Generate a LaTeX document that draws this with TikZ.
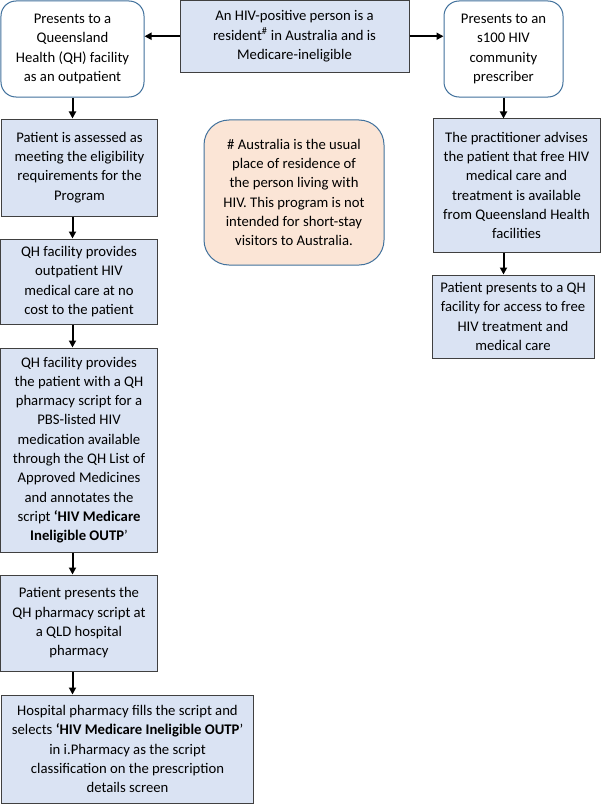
\documentclass[tikz,border=0pt]{standalone}
\usepackage{fontspec}
\setmainfont{Carlito}
\usetikzlibrary{arrows.meta}
\definecolor{bfill}{HTML}{DAE3F3}
\definecolor{bdraw}{HTML}{404040}
\definecolor{rdraw}{HTML}{41719C}
\definecolor{nfill}{HTML}{FBE5D6}
\begin{document}
\begin{tikzpicture}[x=1bp,y=-1bp,
 every node/.style={font=\fontsize{14.7bp}{19.3bp}\selectfont, align=center, inner sep=0pt},
 bluebox/.style={draw=bdraw, fill=bfill, line width=1bp},
 roundbox/.style={draw=rdraw, fill=white, line width=1bp, rounded corners=15bp},
 notebox/.style={draw=rdraw, fill=nfill, line width=1bp, rounded corners=25bp},
 arr/.style={-{Triangle[length=7bp,width=7bp]}, line width=2bp, black}]
\useasboundingbox (0,0) rectangle (604,807);
\fill[white] (0,0) rectangle (604,807);

\node[bluebox, minimum width=229bp, minimum height=71.5bp] (top) at (294.5,36.25)
 {An HIV-positive person is a\\ resident\textsuperscript{\#} in Australia and is\\ Medicare-ineligible};
\node[roundbox, minimum width=143bp, minimum height=96bp] (L1) at (72.5,49)
 {Presents to a\\ Queensland\\ Health (QH) facility\\ as an outpatient};
\node[roundbox, minimum width=119bp, minimum height=96bp] (R1) at (503.5,49)
 {Presents to an\\ s100 HIV\\ community\\ prescriber};
\node[bluebox, minimum width=155bp, minimum height=97bp] (L2) at (79.5,167.5)
 {Patient is assessed as\\ meeting the eligibility\\ requirements for the\\ Program};
\node[notebox, minimum width=180bp, minimum height=145bp] (note) at (294,192.5)
 {\# Australia is the usual\\ place of residence of\\ the person living with\\ HIV. This program is not\\ intended for short-stay\\ visitors to Australia.};
\node[bluebox, minimum width=167bp, minimum height=133bp] (R2) at (516.5,185.5)
 {The practitioner advises\\ the patient that free HIV\\ medical care and\\ treatment is available\\ from Queensland Health\\ facilities};
\node[bluebox, minimum width=162bp, minimum height=83bp] (R3) at (513,316.5)
 {Patient presents to a QH\\ facility for access to free\\ HIV treatment and\\ medical care};
\node[bluebox, minimum width=156bp, minimum height=85bp] (L3) at (79,281.5)
 {QH facility provides\\ outpatient HIV\\ medical care at no\\ cost to the patient};
\node[bluebox, minimum width=156bp, minimum height=204bp] (L4) at (79,450)
 {QH facility provides\\ the patient with a QH\\ pharmacy script for a\\ PBS-listed HIV\\ medication available\\ through the QH List of\\ Approved Medicines\\ and annotates the\\ script \textbf{‘HIV Medicare}\\ \textbf{Ineligible OUTP}’};
\node[bluebox, minimum width=156bp, minimum height=96bp] (L5) at (79,623)
 {Patient presents the\\ QH pharmacy script at\\ a QLD hospital\\ pharmacy};
\node[bluebox, minimum width=251bp, minimum height=108bp] (L6) at (127.5,749)
 {Hospital pharmacy fills the script and\\ selects \textbf{‘HIV Medicare Ineligible OUTP}’\\ in i.Pharmacy as the script\\ classification on the prescription\\ details screen};

\draw[arr] (top.west) -- (top.west -| L1.east);
\draw[arr] (top.east) -- (top.east -| R1.west);
\draw[arr] (L1.south) -- (L1.south |- L2.north);
\draw[arr] (L1.south |- L2.south) -- (L1.south |- L3.north);
\draw[arr] (L1.south |- L3.south) -- (L1.south |- L4.north);
\draw[arr] (L1.south |- L4.south) -- (L1.south |- L5.north);
\draw[arr] (L1.south |- L5.south) -- (L1.south |- L6.north);
\draw[arr] (R1.south) -- (R1.south |- R2.north);
\draw[arr] (R1.south |- R2.south) -- (R1.south |- R3.north);
\end{tikzpicture}
\end{document}
